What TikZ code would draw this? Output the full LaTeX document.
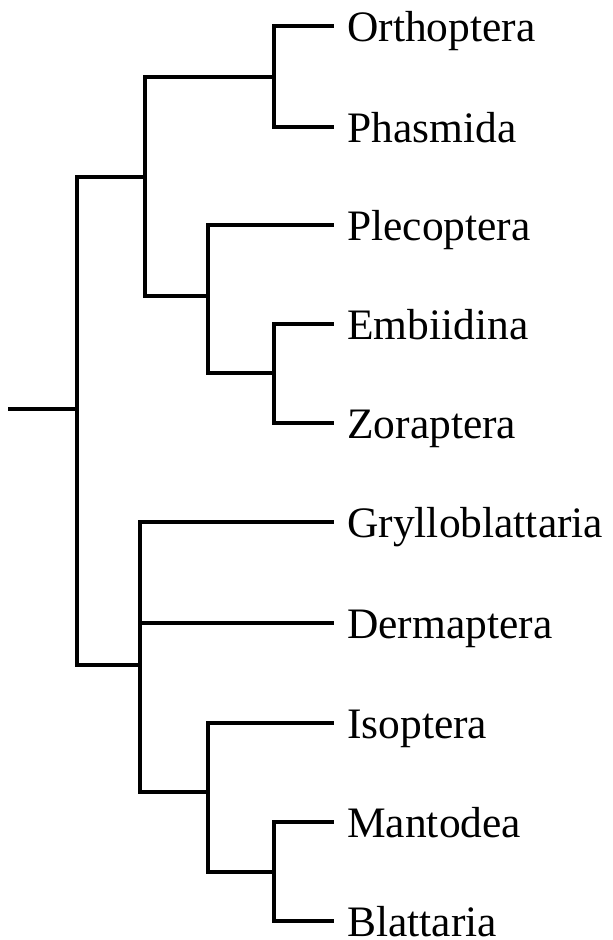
\documentclass[tikz,border=0pt]{standalone}
\usepackage{fontspec}
\setmainfont{Liberation Serif}
\begin{document}
\begin{tikzpicture}[x=0.75pt,y=-0.75pt,
  br/.style={line width=3pt,line cap=rect},
  taxon/.style={anchor=base west,inner sep=0pt,font=\fontsize{32.6pt}{36pt}\selectfont}]
\useasboundingbox (0,0) rectangle (613,940);
% leaf tips
\foreach \n/\y in {orth/26,phas/127,plec/225,embi/324,zora/423,gryl/522,derm/623,isop/723,mant/822,blat/921}{
  \coordinate (\n) at (332,\y);
}
\node[taxon] (torth) at (347,41) {Orthoptera};
\node[taxon] (tphas) at (347,142) {Phasmida};
\node[taxon] (tplec) at (347,240) {Plecoptera};
\node[taxon] (tembi) at (347,339) {Embiidina};
\node[taxon] (tzora) at (347,438) {Zoraptera};
\node[taxon] (tgryl) at (347,537) {Grylloblattaria};
\node[taxon] (tderm) at (347,638) {Dermaptera};
\node[taxon] (tisop) at (347,738) {Isoptera};
\node[taxon] (tmant) at (347,837) {Mantodea};
\node[taxon] (tblat) at (347,936) {Blattaria};
% internal nodes
\coordinate (n1) at (274,77);   % Orth+Phas
\coordinate (n2) at (274,373);  % Embi+Zora
\coordinate (n3) at (208,296);  % Plec+n2
\coordinate (n4) at (145,177);  % n1+n3
\coordinate (n5) at (274,872);  % Mant+Blat
\coordinate (n6) at (208,792);  % Isop+n5
\coordinate (n7) at (140,665);  % Gryl+Derm+n6
\coordinate (root) at (77,409);
\coordinate (base) at (10,409);
% branches
\draw[br] (orth) -| (n1) |- (phas);
\draw[br] (embi) -| (n2) |- (zora);
\draw[br] (plec) -| (n3) |- (n2);
\draw[br] (n1) -| (n4) |- (n3);
\draw[br] (mant) -| (n5) |- (blat);
\draw[br] (isop) -| (n6) |- (n5);
\draw[br] (gryl) -| (n7) |- (n6);
\draw[br] (derm) -- (derm -| n7);
\draw[br] (n4) -| (root) |- (n7);
\draw[br] (base) -- (root);
\end{tikzpicture}
\end{document}
